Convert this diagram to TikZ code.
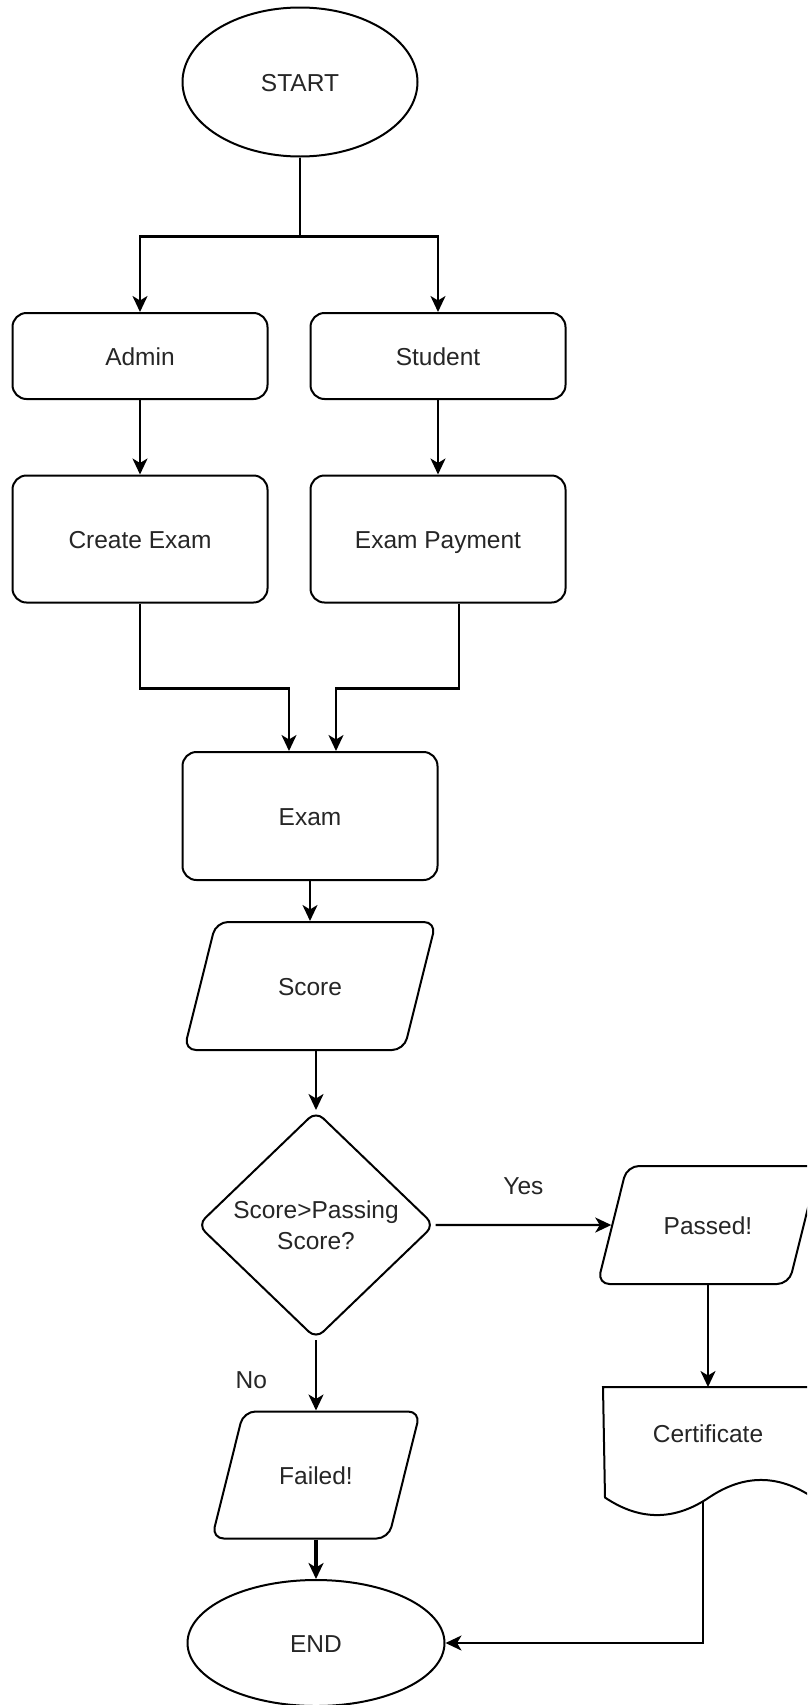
\documentclass[tikz,border=0pt]{standalone}
\usepackage{fontspec}
\setmainfont{Liberation Sans}
\usepackage{xcolor}
\usepackage{tikz}
\usetikzlibrary{arrows,arrows.meta,shapes,shapes.geometric,calc}
\tikzstyle{outline}=[draw, line width=2pt, text=black!85, inner sep=0pt,
  font=\fontsize{24.5}{31}\selectfont]
\tikzstyle{oneline}=[text height=18pt, text depth=0pt]
\tikzstyle{terminal}=[outline, oneline, ellipse]
\tikzstyle{process}=[outline, oneline, rectangle, rounded corners=14pt,
  minimum width=255pt]
\tikzstyle{data}=[outline, oneline, trapezium, trapezium left angle=76,
  trapezium right angle=104, rounded corners=12pt, align=center]
\tikzstyle{decision}=[outline, diamond, aspect=1, rounded corners=10pt,
  align=center]
\tikzstyle{flow}=[line width=2.2pt, -{Stealth[length=16pt,width=15pt,inset=4.5pt]}]
\tikzstyle{branchtext}=[oneline, inner sep=0pt, text=black!85,
  font=\fontsize{24.5}{31}\selectfont]

\begin{document}
\begin{tikzpicture}[x=1pt, y=-1pt]
  \useasboundingbox (0,0) rectangle (807,1705);
  \fill[white] (0,0) rectangle (807,1705);
  \clip (0,0) rectangle (807,1705);

  \node(start)[terminal, minimum width=235pt, minimum height=149pt] at (300,82) {START};

  \path(start)+(-160,274) node(admin)[process, minimum height=86pt]{Admin};
  \path(start)+(138,274) node(student)[process, minimum height=86pt]{Student};
  \draw[flow] (start.south) -- ++(0,79) -| (admin.north);
  \draw[flow] (start.south) -- ++(0,79) -| (student.north);

  \path(admin)+(0,183) node(create)[process, minimum height=127pt]{Create Exam};
  \draw[flow] (admin.south) -- (create.north);
  \path(student)+(0,183) node(payment)[process, minimum height=127pt]{Exam Payment};
  \draw[flow] (student.south) -- (payment.north);

  \path(create)+(170,277) node(exam)[process, minimum height=128pt]{Exam};
  \draw[flow] (create.south) -- ++(0,85) -| ([xshift=-21pt]exam.north);
  \draw[flow] ([xshift=21pt]payment.south) -- ++(0,85) -| ([xshift=26pt]exam.north);

  \path(exam)+(0,170) node(score)[data, text width=188pt, inner ysep=55pt]{Score};
  \draw[flow] (exam.south) -- (score.north);

  \path(score)+(6,239) node(check)[decision, minimum width=237pt,
    minimum height=228pt]{Score>Passing\\Score?};
  \draw[flow] (score.south -| check.north) -- (check.north);

  \path(check)+(392,0) node(passed)[data, text width=162pt, inner ysep=50pt]{Passed!};
  \draw[flow] (check.east) -- (passed.west)
  node[branchtext, midway, above=29pt]{Yes};

  \path(check)+(0,250) node(failed)[data, text width=145pt, inner ysep=54.5pt]{Failed!};
  \draw[flow] (check.south) -- (failed.north)
  node[branchtext, pos=0.56, left=48pt]{No};

  \path(passed)+(0,228) node(cert)[outline, oneline, draw=none, text depth=40pt,
    minimum width=208pt, minimum height=130pt]{Certificate};
  \draw[line width=2pt] (cert.north west) -- (cert.north east) -- ++(0,110.5)
    .. controls +(-34.7,-23.4) and +(34.7,-23.4) .. ++(-104,0)
    .. controls +(-34.7,23.4) and +(34.7,23.4) .. ++(-104,0) -- cycle;
  \draw[flow] (passed.south) -- (cert.north);

  \path(failed)+(0,168) node(end)[terminal, minimum width=257pt, minimum height=126pt]{END};
  \draw[flow, line width=3.5pt] (failed.south) -- (end.north);
  \draw[flow] ($(cert.south)+(-5,-17)$) |- (end.east);
\end{tikzpicture}
\end{document}
